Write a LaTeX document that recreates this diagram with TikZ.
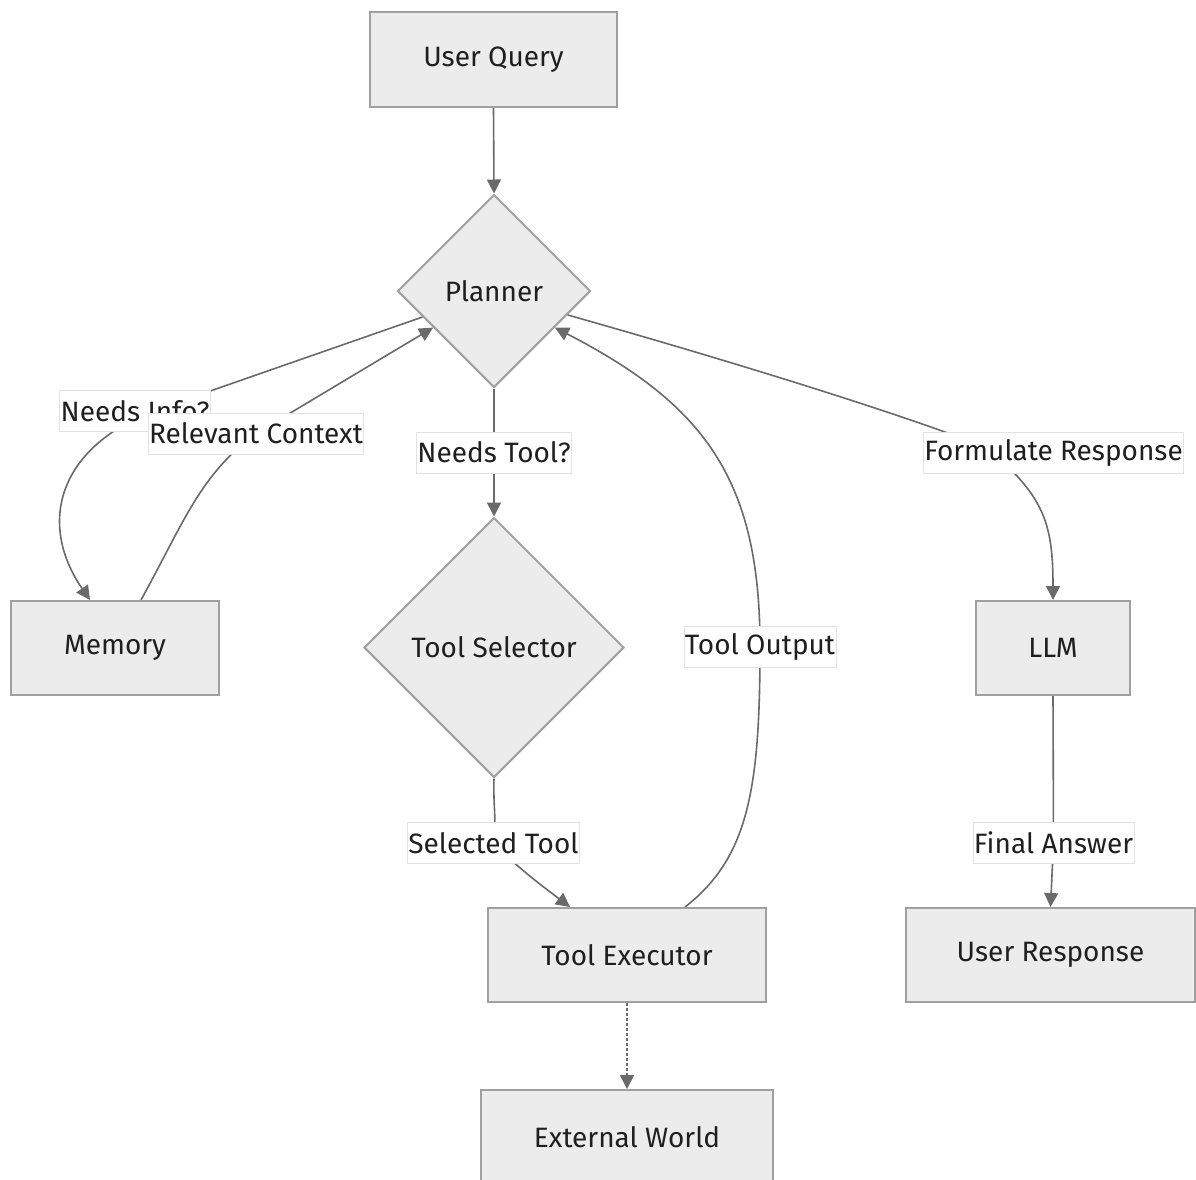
\documentclass[tikz,border=0pt]{standalone}
\usepackage{fontspec}
\setmainfont{Fira Sans}
\usetikzlibrary{shapes.geometric,arrows.meta,calc,backgrounds}
\definecolor{boxfill}{HTML}{ECECEC}
\definecolor{boxline}{HTML}{A0A0A0}
\definecolor{edgecol}{HTML}{6A6A6A}
\definecolor{lblline}{HTML}{E2E2E2}
\begin{document}
\begin{tikzpicture}[x=1pt,y=-1pt,
  every node/.style={font=\fontsize{28}{32}\selectfont, text=black!88},
  rectbox/.style={draw=boxline, line width=2pt, fill=boxfill, inner sep=0pt},
  decbox/.style={draw=boxline, line width=2pt, fill=boxfill, diamond, aspect=1, inner sep=0pt},
  elabel/.style={fill=white, draw=lblline, line width=0.8pt, inner xsep=1pt, inner ysep=0pt, minimum height=41pt},
  edge/.style={draw=edgecol, line width=1.6pt, -{Triangle[length=14pt,width=14pt]}},
  dotedge/.style={edge, dash pattern=on 2.5pt off 2.5pt}
]
\useasboundingbox (0,0) rectangle (1196,1179);
\clip (0,0) rectangle (1196,1179);

% nodes
\node[rectbox, minimum width=247pt, minimum height=95pt] (uq) at (493.5,59.5) {User Query};
\node[decbox, minimum width=193pt, minimum height=193pt] (planner) at (494,291) {Planner};
\node[rectbox, minimum width=208pt, minimum height=94pt] (memory) at (115,648) {Memory};
\node[decbox, minimum width=260pt, minimum height=260pt] (ts) at (494,647.5) {Tool Selector};
\node[rectbox, minimum width=154pt, minimum height=94pt] (llm) at (1053,648) {LLM};
\node[rectbox, minimum width=278pt, minimum height=94pt] (te) at (627,955) {Tool Executor};
\node[rectbox, minimum width=289pt, minimum height=94pt] (ur) at (1050.5,955) {User Response};
\node[rectbox, minimum width=292pt, minimum height=94pt] (ew) at (627,1137) {External World};

% edge labels
\node[elabel] (ni) at (135,411) {Needs Info?};
\node[elabel] (rc) at (256,433.5) {Relevant Context};
\node[elabel] (nt) at (494,452.5) {Needs Tool?};
\node[elabel] (fr) at (1053.5,452.5) {Formulate Response};
\node[elabel] (to) at (760,646.5) {Tool Output};
\node[elabel] (st) at (493.5,843) {Selected Tool};
\node[elabel] (fa) at (1053.5,843) {Final Answer};

% helper coordinates
\coordinate (niin) at (170,405);
\coordinate (frin) at (985,447);

\begin{scope}[on background layer]
\draw[edge] (uq.south) -- (planner.north);
\draw[edge] (planner.200) -- (niin) .. controls (60,440) and (35,520) .. ([xshift=-25pt]memory.north);
\draw[edge] ([xshift=26pt]memory.north) .. controls (185,520) and (200,475) .. (rc.center) -- (planner.211);
\draw[edge] (planner.south) -- (nt) -- (ts.north);
\draw[edge] (ts.south) .. controls (493,805) and (497,825) .. (st.center) .. controls (520,870) and (545,888) .. ([xshift=-57pt]te.north);
\draw[edge] ([xshift=58pt]te.north) .. controls (748,858) and (760,790) .. (to.center) .. controls (760,480) and (705,405) .. (planner.329);
\draw[edge] (planner.342) .. controls (790,378) and (930,425) .. (frin) .. controls (1045,495) and (1053,525) .. (llm.north);
\draw[edge] (llm.south) -- (fa) -- (ur.north);
\draw[dotedge] (te.south) -- (ew.north);
\end{scope}
\end{tikzpicture}
\end{document}
